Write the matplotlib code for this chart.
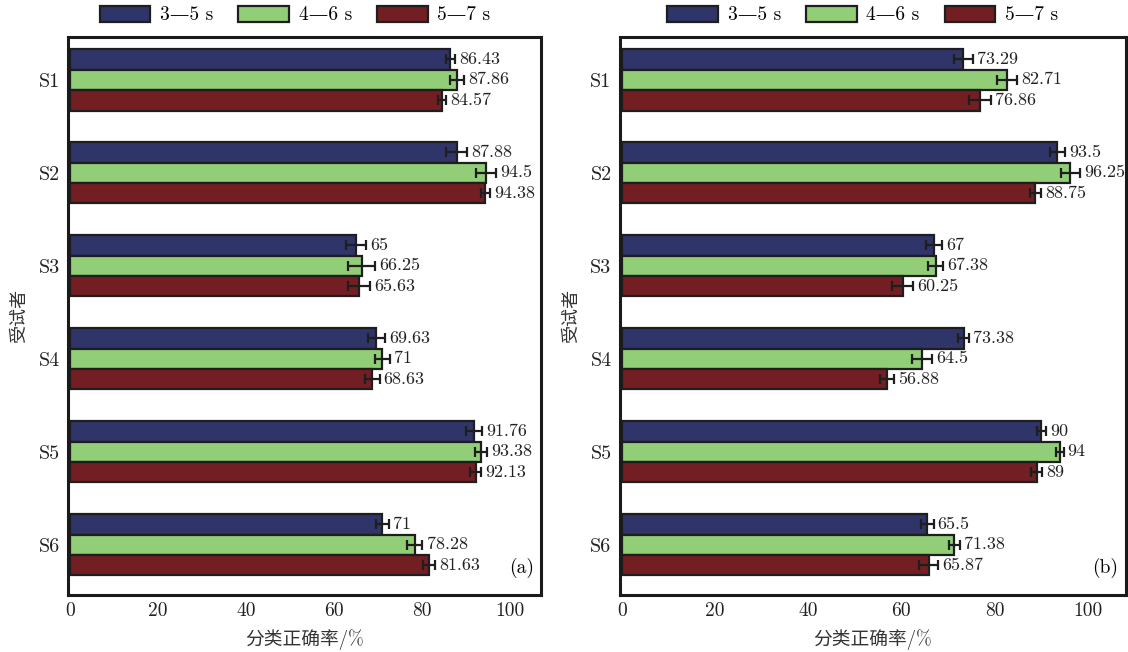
import numpy as np
import matplotlib
matplotlib.use('Agg')
import matplotlib.pyplot as plt

plt.rcParams['font.family'] = ['cmr10', 'DejaVu Serif', 'Noto Sans CJK SC']
plt.rcParams['mathtext.fontset'] = 'cm'
plt.rcParams['axes.formatter.use_mathtext'] = True

subjects = ['S1', 'S2', 'S3', 'S4', 'S5', 'S6']
windows = ['3—5 s', '4—6 s', '5—7 s']
colors = ['#2f3469', '#92cd78', '#721e22']

# panel (a): accuracy per subject for each time window
acc_a = [
    [86.43, 87.88, 65.00, 69.63, 91.76, 71.00],
    [87.86, 94.50, 66.25, 71.00, 93.38, 78.28],
    [84.57, 94.38, 65.63, 68.63, 92.13, 81.63],
]
err_a = [
    [1.1, 2.4, 2.35, 2.0, 1.9, 1.4],
    [1.6, 2.3, 3.0, 1.7, 1.4, 1.8],
    [0.9, 1.0, 2.5, 1.7, 1.2, 1.4],
]
lab_a = [
    ['86.43', '87.88', '65', '69.63', '91.76', '71'],
    ['87.86', '94.5', '66.25', '71', '93.38', '78.28'],
    ['84.57', '94.38', '65.63', '68.63', '92.13', '81.63'],
]

# panel (b)
acc_b = [
    [73.29, 93.50, 67.00, 73.38, 90.00, 65.50],
    [82.71, 96.25, 67.38, 64.50, 94.00, 71.38],
    [76.86, 88.75, 60.25, 56.88, 89.00, 65.87],
]
err_b = [
    [2.0, 1.6, 1.8, 1.15, 1.0, 1.4],
    [2.2, 2.1, 1.6, 2.15, 0.8, 1.15],
    [2.3, 1.2, 2.25, 1.5, 1.2, 2.0],
]
lab_b = [
    ['73.29', '93.5', '67', '73.38', '90', '65.5'],
    ['82.71', '96.25', '67.38', '64.5', '94', '71.38'],
    ['76.86', '88.75', '60.25', '56.88', '89', '65.87'],
]

xticks = [0, 20, 40, 60, 80, 100]
cn_font = ['cmr10', 'Noto Sans CJK SC']


def draw_panel(ax, acc, err, labels, tag, xmax):
    y = np.arange(len(subjects))
    h = 0.22
    for k in range(3):
        yk = y + (k - 1) * h
        ax.barh(yk, acc[k], height=h, color=colors[k], edgecolor='#1e1e1e',
                linewidth=1.6, label=windows[k], zorder=2)
        ax.errorbar(acc[k], yk, xerr=err[k], fmt='none', ecolor='#1e1e1e',
                    elinewidth=1.6, capsize=3.5, capthick=1.6, zorder=3)
        for v, e, yy, t in zip(acc[k], err[k], yk, labels[k]):
            ax.annotate(t, (v + e, yy), xytext=(3, 0), textcoords='offset points',
                        ha='left', va='center', fontsize=13, color='#222222')
    ax.set_xlim(-0.42, xmax)
    ax.set_ylim(5.54, -0.46)
    ax.set_yticks(y)
    ax.set_yticklabels(subjects, fontsize=14.5, color='#222222')
    ax.set_xticks(xticks)
    ax.set_xticklabels([str(t) for t in xticks], fontsize=14, color='#222222')
    ax.tick_params(axis='x', length=0, pad=5)
    ax.tick_params(axis='y', length=0, pad=6)
    for s in ax.spines.values():
        s.set_linewidth(2.2)
        s.set_color('#1a1a1a')
    ax.set_xlabel('分类正确率/%', family=cn_font, fontsize=13.5,
                  labelpad=7, color='#333333')
    ax.set_ylabel('受试者', family=cn_font, fontsize=13, labelpad=8, color='#333333')
    ax.text(0.985, 0.03, tag, transform=ax.transAxes, ha='right', va='bottom',
            fontsize=14)
    ax.legend(loc='lower center', bbox_to_anchor=(0.48, 1.0), ncol=3,
              frameon=False, fontsize=14, handlelength=2.6, handleheight=0.88,
              columnspacing=1.3, handletextpad=0.5, borderaxespad=0.25)


fig = plt.figure(figsize=(11.28, 6.52), dpi=100)
ax1 = fig.add_axes([0.0603, 0.0874, 0.4193, 0.8558])
ax2 = fig.add_axes([0.5496, 0.0874, 0.4486, 0.8558])

draw_panel(ax1, acc_a, err_a, lab_a, '(a)', 107.0)
draw_panel(ax2, acc_b, err_b, lab_b, '(b)', 108.2)

fig.savefig('out.png', dpi=100)
